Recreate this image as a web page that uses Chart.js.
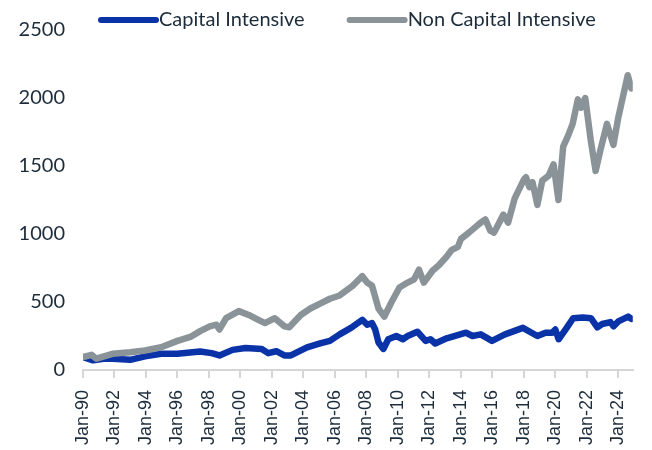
<!DOCTYPE html>
<html>
<head>
<meta charset="utf-8">
<script src="https://cdn.jsdelivr.net/npm/chart.js@4.4.1/dist/chart.umd.min.js"></script>
<style>
  html, body { margin: 0; padding: 0; background: #fff; }
  #wrap { width: 652px; height: 450px; }
</style>
</head>
<body>
<div id="wrap"><canvas id="chart"></canvas></div>
<script>
// values (x = fractional year)
var seriesNames = ['Capital Intensive', 'Non Capital Intensive'];
var seriesColors = ['#0a33a8', '#8a9398'];

var capitalDates = [1990.0, 1990.64, 1991.3, 1991.87, 1993.0, 1993.94, 1994.96, 1996.0, 1997.44, 1998.16,
    1998.67, 1999.5, 2000.32, 2001.35, 2001.76, 2002.28, 2002.79, 2003.2, 2004.23, 2005.06,
    2005.68, 2006.3, 2007.02, 2007.74, 2008.05, 2008.36, 2008.56, 2008.77, 2009.08, 2009.39,
    2009.9, 2010.32, 2010.62, 2011.24, 2011.76, 2012.07, 2012.37, 2013.1, 2014.33, 2014.74,
    2015.26, 2015.98, 2016.8, 2017.94, 2018.86, 2019.38, 2019.79, 2020.0, 2020.21, 2020.72,
    2021.13, 2021.75, 2022.26, 2022.67, 2022.98, 2023.5, 2023.7, 2024.0, 2024.63, 2024.83];
var capitalValues = [95, 71, 82, 83, 75, 100, 119, 119, 136, 124,
    107, 148, 162, 155, 124, 138, 107, 107, 167, 195,
    214, 262, 310, 369, 333, 345, 298, 202, 155, 226,
    250, 226, 250, 281, 214, 226, 195, 233, 274, 250,
    262, 214, 262, 310, 250, 274, 274, 298, 226, 310,
    381, 386, 381, 314, 338, 352, 321, 357, 393, 376];

var nonCapitalDates = [1990.0, 1990.54, 1990.85, 1991.87, 1993.0, 1993.94, 1994.96, 1996.0, 1996.82, 1997.44,
    1998.05, 1998.47, 1998.67, 1999.09, 1999.9, 2000.53, 2001.14, 2001.56, 2002.18, 2002.79,
    2003.1, 2003.83, 2004.44, 2005.06, 2005.68, 2006.3, 2007.12, 2007.74, 2008.05, 2008.36,
    2008.77, 2009.14, 2009.6, 2010.1, 2010.62, 2011.03, 2011.34, 2011.65, 2012.2, 2012.6,
    2013.09, 2013.4, 2013.81, 2014.01, 2014.53, 2015.25, 2015.56, 2015.87, 2016.1, 2016.28,
    2016.7, 2017.0, 2017.42, 2018.0, 2018.14, 2018.35, 2018.55, 2018.86, 2019.17, 2019.58,
    2019.89, 2020.2, 2020.5, 2020.8, 2021.1, 2021.43, 2021.63, 2021.9, 2022.25, 2022.56,
    2022.87, 2023.28, 2023.69, 2024.0, 2024.3, 2024.6, 2024.83];
var nonCapitalValues = [95, 112, 83, 119, 130, 143, 167, 214, 243, 286,
    321, 333, 298, 381, 433, 405, 369, 345, 381, 321,
    314, 405, 452, 488, 524, 548, 619, 690, 643, 619,
    452, 393, 500, 607, 643, 667, 738, 643, 730, 770,
    833, 881, 905, 964, 1012, 1083, 1107, 1024, 1010, 1048,
    1143, 1083, 1262, 1400, 1417, 1345, 1381, 1214, 1393, 1429,
    1512, 1250, 1643, 1720, 1810, 1990, 1929, 2000, 1690, 1464,
    1619, 1810, 1655, 1857, 2012, 2167, 2071];

var tickYears = [1990, 1992, 1994, 1996, 1998, 2000, 2002, 2004, 2006, 2008,
    2010, 2012, 2014, 2016, 2018, 2020, 2022, 2024];
var tickLabels = ['Jan-90', 'Jan-92', 'Jan-94', 'Jan-96', 'Jan-98', 'Jan-00', 'Jan-02', 'Jan-04', 'Jan-06', 'Jan-08',
    'Jan-10', 'Jan-12', 'Jan-14', 'Jan-16', 'Jan-18', 'Jan-20', 'Jan-22', 'Jan-24'];
var yTicks = [0, 500, 1000, 1500, 2000, 2500];

var textColor = '#1d2c3b';
var axisColor = '#d6d6d6';

function toPoints(xs, ys) {
    return xs.map(function(x, i) { return { x: x, y: ys[i] }; });
}

// legend drawn by hand so it can sit on the same row as the top tick
var topLegend = {
    id: 'topLegend',
    afterDraw: function(chart) {
        var ctx = chart.ctx;
        var x = 101;
        var y = 20;
        ctx.save();
        ctx.font = '20px Lato';
        ctx.textBaseline = 'middle';
        ctx.lineCap = 'round';
        ctx.lineWidth = 6;
        seriesNames.forEach(function(name, i) {
            ctx.strokeStyle = seriesColors[i];
            ctx.beginPath();
            ctx.moveTo(x, y);
            ctx.lineTo(x + 55, y);
            ctx.stroke();
            ctx.fillStyle = textColor;
            ctx.fillText(name, x + 58, y);
            x = x + 58 + ctx.measureText(name).width + 45;
        });
        ctx.restore();
    }
};

var ctx = document.getElementById('chart').getContext('2d');
var chart = new Chart(ctx, {
    type: 'line',
    data: {
        datasets: [{
            label: seriesNames[0],
            data: toPoints(capitalDates, capitalValues),
            borderColor: seriesColors[0],
            backgroundColor: seriesColors[0],
            borderWidth: 6.5,
            pointRadius: 0,
            tension: 0,
            borderCapStyle: 'round',
            borderJoinStyle: 'round',
            order: 2
        }, {
            label: seriesNames[1],
            data: toPoints(nonCapitalDates, nonCapitalValues),
            borderColor: seriesColors[1],
            backgroundColor: seriesColors[1],
            borderWidth: 6.5,
            pointRadius: 0,
            tension: 0,
            borderCapStyle: 'round',
            borderJoinStyle: 'round',
            order: 1
        }]
    },
    options: {
        responsive: true,
        maintainAspectRatio: false,
        animation: false,
        layout: { padding: { left: 15, top: 20, right: 4, bottom: 0 } },
        plugins: {
            legend: { display: false },
            tooltip: { enabled: false }
        },
        scales: {
            x: {
                type: 'linear',
                min: 1990,
                max: 2024.92,
                afterBuildTicks: function(scale) {
                    scale.ticks = tickYears.map(function(v) { return { value: v }; });
                },
                afterFit: function(scale) { scale.height = 80; },
                grid: {
                    display: true,
                    drawOnChartArea: false,
                    drawTicks: true,
                    tickLength: 8,
                    color: axisColor,
                    lineWidth: 2
                },
                border: { display: true, color: axisColor, width: 2 },
                ticks: {
                    autoSkip: false,
                    minRotation: 90,
                    maxRotation: 90,
                    padding: 12,
                    color: textColor,
                    font: { family: 'Liberation Sans', size: 18 },
                    callback: function(v) { return tickLabels[tickYears.indexOf(v)]; }
                }
            },
            y: {
                min: 0,
                max: 2500,
                afterBuildTicks: function(scale) {
                    scale.ticks = yTicks.map(function(v) { return { value: v }; });
                },
                afterFit: function(scale) { scale.width = 68; },
                grid: { display: false, drawTicks: false },
                border: { display: false },
                ticks: {
                    padding: 18,
                    color: textColor,
                    font: { family: 'Lato', size: 20 },
                    callback: function(v) { return String(v); }
                }
            }
        }
    },
    plugins: [topLegend]
});
</script>
</body>
</html>
